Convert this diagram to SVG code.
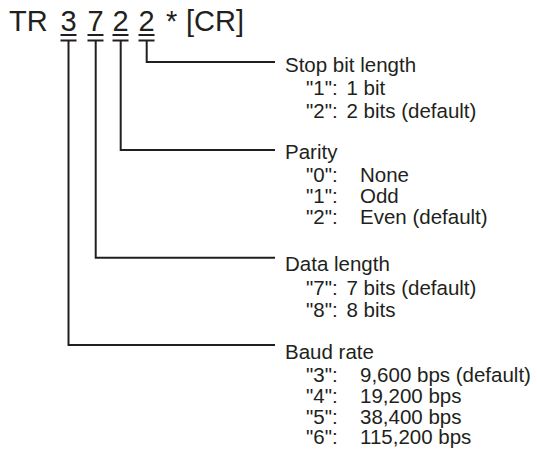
<svg xmlns="http://www.w3.org/2000/svg" width="537" height="450" viewBox="0 0 537 450">
<style>
text{font-family:"Liberation Sans",Arial,Helvetica,sans-serif;fill:#231f20}
.t{font-size:29px}
.l{font-size:20.5px}
.c{fill:none;stroke:#231f20;stroke-width:2}
</style>
<rect width="537" height="450" fill="#fff"/>
<g id="command">
<text class="t" x="9" y="30.5">TR</text>
<text class="t" x="68.5" y="30.5" text-anchor="middle">3</text>
<text class="t" x="95.5" y="30.5" text-anchor="middle">7</text>
<text class="t" x="120.5" y="30.5" text-anchor="middle">2</text>
<text class="t" x="146.5" y="30.5" text-anchor="middle">2</text>
<text class="t" x="166" y="30.5">*</text>
<text class="t" x="186" y="30.5">[CR]</text>
</g>
<g id="connectors" class="c">
<path d="M60.5 35H76.5M60.5 40.5H76.5M87.5 35H103.5M87.5 40.5H103.5M112.5 35H128.5M112.5 40.5H128.5M138.5 35H154.5M138.5 40.5H154.5"/>
<path d="M146.7 40.5V62H275"/>
<path d="M120.7 40.5V150H275"/>
<path d="M95.7 40.5V257.7H275"/>
<path d="M68.5 40.5V345H275"/>
</g>
<g id="stop-bit">
<text class="l" x="285" y="71.5">Stop bit length</text>
<text class="l" x="306" y="94.5">"1":</text><text class="l" x="346.5" y="94.5">1 bit</text>
<text class="l" x="306" y="117.5">"2":</text><text class="l" x="346.5" y="117.5">2 bits (default)</text>
</g>
<g id="parity">
<text class="l" x="285" y="159">Parity</text>
<text class="l" x="306" y="181.5">"0":</text><text class="l" x="360" y="181.5">None</text>
<text class="l" x="306" y="202.5">"1":</text><text class="l" x="360" y="202.5">Odd</text>
<text class="l" x="306" y="223.5">"2":</text><text class="l" x="360" y="223.5">Even (default)</text>
</g>
<g id="data-length">
<text class="l" x="285" y="271">Data length</text>
<text class="l" x="306" y="295">"7":</text><text class="l" x="346.5" y="295">7 bits (default)</text>
<text class="l" x="306" y="317">"8":</text><text class="l" x="346.5" y="317">8 bits</text>
</g>
<g id="baud-rate">
<text class="l" x="285" y="359">Baud rate</text>
<text class="l" x="306" y="381.5">"3":</text><text class="l" x="360" y="381.5">9,600 bps (default)</text>
<text class="l" x="306" y="402.5">"4":</text><text class="l" x="360" y="402.5">19,200 bps</text>
<text class="l" x="306" y="423.5">"5":</text><text class="l" x="360" y="423.5">38,400 bps</text>
<text class="l" x="306" y="444">"6":</text><text class="l" x="360" y="444">115,200 bps</text>
</g>
</svg>
